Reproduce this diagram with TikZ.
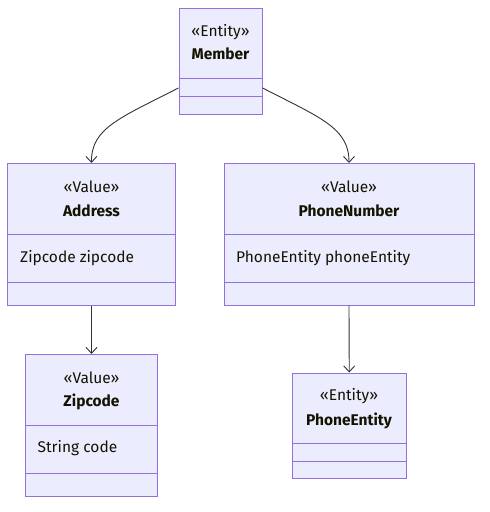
\documentclass[tikz,border=0pt]{standalone}
\usepackage{fontspec}
\setmainfont{Fira Sans}
\usetikzlibrary{arrows.meta}
\definecolor{cfill}{HTML}{ECECFF}
\definecolor{cstroke}{HTML}{9370DB}
\definecolor{cline}{HTML}{333333}
\definecolor{ctext}{HTML}{131300}
\tikzset{
  x=1pt, y=-1pt,
  classbox/.style={draw=cstroke, fill=cfill, line width=1pt, inner sep=0pt},
  divider/.style={draw=cstroke, line width=1pt},
  lbl/.style={inner sep=0pt, text=ctext, font=\fontsize{15.5}{17}\selectfont},
  bold/.style={lbl, font=\fontsize{15.5}{17}\selectfont\bfseries},
  assoc/.style={draw=cline, line width=0.9pt, -{Straight Barb[length=6pt,width=11pt,line width=0.9pt]}}
}
\newcommand{\classrect}[5]{% name, x1, y1, x2, y2
  \node[classbox, minimum width={#4-#2}, minimum height={#5-#3}] (#1) at ({(#2+#4)/2},{(#3+#5)/2}) {};
}
\begin{document}
\begin{tikzpicture}
\useasboundingbox (0,0) rectangle (490,512);
% Member
\classrect{member}{179}{8}{262}{114}
\draw[divider] (179,78.5) -- (262,78.5);
\draw[divider] (179,96.5) -- (262,96.5);
\node[lbl] (memberst) at (220.5,32) {«Entity»};
\node[bold] (membername) at (220.5,54) {Member};
% Address
\classrect{address}{7.5}{163.5}{175.5}{305}
\draw[divider] (7.5,234.5) -- (175.5,234.5);
\draw[divider] (7.5,282) -- (175.5,282);
\node[lbl] (addressst) at (91.5,187) {«Value»};
\node[bold] (addressname) at (91.5,211) {Address};
\node[lbl, anchor=west] (addressattr) at (20,258) {Zipcode zipcode};
% PhoneNumber
\classrect{phone}{224}{163.5}{474}{305}
\draw[divider] (224,234.5) -- (474,234.5);
\draw[divider] (224,282) -- (474,282);
\node[lbl] (phonest) at (349,187) {«Value»};
\node[bold] (phonename) at (349,211) {PhoneNumber};
\node[lbl, anchor=west] (phoneattr) at (236,258) {PhoneEntity phoneEntity};
% Zipcode
\classrect{zipcode}{25.5}{354.5}{157.5}{496.5}
\draw[divider] (25.5,425.5) -- (157.5,425.5);
\draw[divider] (25.5,473.5) -- (157.5,473.5);
\node[lbl] (zipst) at (91.5,378) {«Value»};
\node[bold] (zipname) at (91.5,402) {Zipcode};
\node[lbl, anchor=west] (zipattr) at (37.5,448.5) {String code};
% PhoneEntity
\classrect{pentity}{292.5}{373}{406}{478.5}
\draw[divider] (292.5,443.5) -- (406,443.5);
\draw[divider] (292.5,461) -- (406,461);
\node[lbl] (pentityst) at (349,396.5) {«Entity»};
\node[bold] (pentityname) at (349,420.5) {PhoneEntity};
% connectors
\coordinate (mL) at (178.4,88);
\coordinate (mR) at (262.6,88);
\draw[assoc] (mL) .. controls (120,118) and (91,128) .. (address.north);
\draw[assoc] (mR) .. controls (321,118) and (349,128) .. (phone.north);
\draw[assoc] (address.south) -- (zipcode.north);
\draw[assoc] (phone.south) -- (pentity.north);
\end{tikzpicture}
\end{document}
